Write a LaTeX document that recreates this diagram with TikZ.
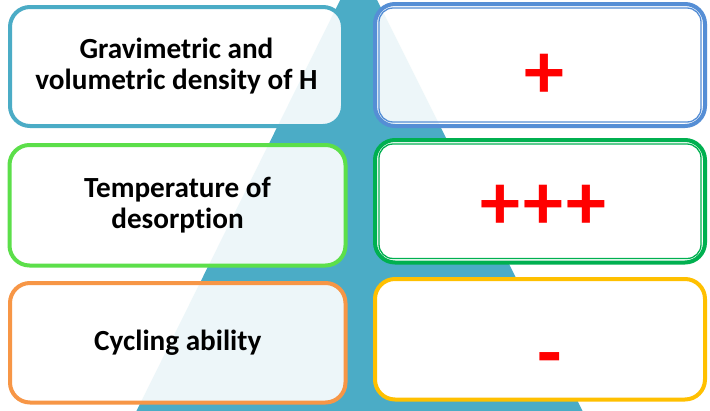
\documentclass[tikz,border=0pt]{standalone}
\usepackage{fontspec}
\setmainfont{Carlito}[Ligatures=NoCommon]
\definecolor{teal1}{HTML}{4BACC6}
\definecolor{lgreen}{HTML}{5CDF4A}
\definecolor{orng}{HTML}{F79646}
\definecolor{rblue}{HTML}{558ED5}
\definecolor{rgreen}{HTML}{00B050}
\definecolor{ryellow}{HTML}{FFC000}
\definecolor{mark}{HTML}{FF0000}
\begin{document}
\begin{tikzpicture}[x=1pt,y=-1pt,
  card/.style={draw=#1, line width=4pt, rounded corners=20pt, fill=white,
    fill opacity=0.9, draw opacity=1, text opacity=1,
    align=center, inner sep=0pt, text=black,
    font=\fontsize{29.2}{31}\selectfont\bfseries},
  score/.style={draw=#1, line width=4pt, rounded corners=20pt, fill=white,
    inner sep=0pt},
  inner rim/.style={draw=#1, line width=1.3pt, rounded corners=14pt},
  sign/.style={text=mark, inner sep=0pt,
    font=\fontsize{80}{80}\selectfont\bfseries}]
\useasboundingbox (0,0) rectangle (710,410);
\clip (0,0) rectangle (710,410);
\fill[white] (0,0) rectangle (710,410);
% background pyramid
\fill[teal1] (358.5,-37) -- (132,420) -- (587,420) -- cycle;
% property cards
\node[card=teal1, minimum width=333, minimum height=119] (c1) at (176.5,66.5)
  {Gravimetric and\\volumetric density of H};
\node[card=lgreen, minimum width=336, minimum height=120.5] (c2) at (177.5,205.25)
  {Temperature of\\desorption};
\node[card=orng, minimum width=335.5, minimum height=119.5] (c3) at (177.75,342.75)
  {Cycling ability};
% score cards
\node[score=rblue, fill opacity=0.9, draw opacity=1, minimum width=330, minimum height=122] (s1) at (540,65) {};
\draw[inner rim=rblue] ([shift={(6,6)}]s1.north west) rectangle ([shift={(-6,-6)}]s1.south east);
\node[score=rgreen, minimum width=330, minimum height=122.5] (s2) at (540,201.25) {};
\draw[inner rim=rgreen] ([shift={(6,6)}]s2.north west) rectangle ([shift={(-6,-6)}]s2.south east);
\node[score=ryellow, minimum width=330, minimum height=120.5] (s3) at (540,339.25) {};
% ratings
\node[sign] (m1) at (544,76) {+};
\node[sign] (m2) at (543.5,207) {+\kern3pt+\kern3pt+};
\node[sign] (m3) at (549.5,366) {-};
\end{tikzpicture}
\end{document}
